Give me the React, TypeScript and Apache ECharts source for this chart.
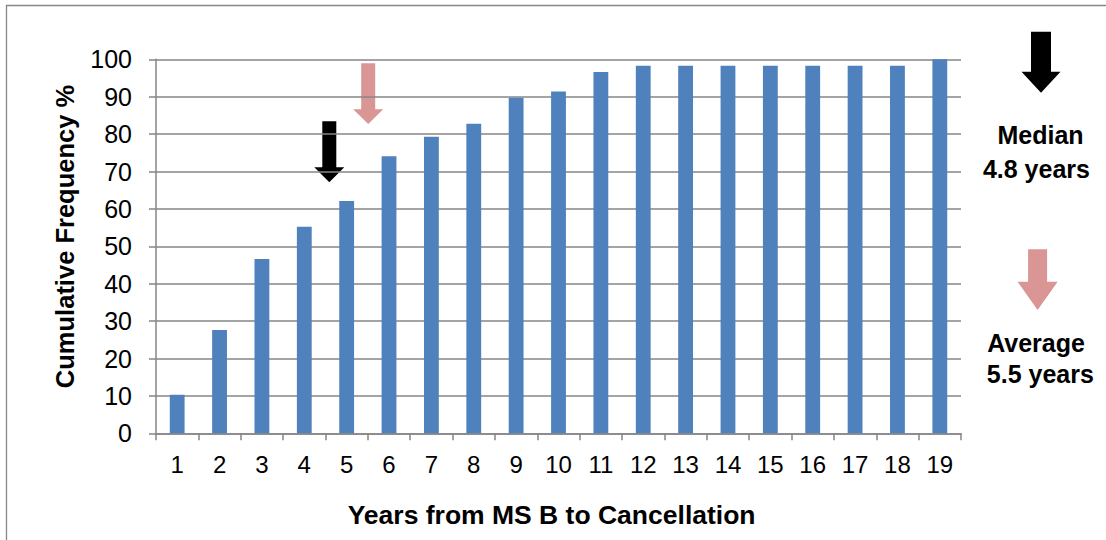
import React, { useEffect, useRef } from "react";
import * as echarts from "echarts";

const years = ["1", "2", "3", "4", "5", "6", "7", "8", "9", "10", "11", "12", "13", "14", "15", "16", "17", "18", "19"];
const cumulativePct = [10.3, 27.6, 46.6, 55.2, 62.1, 74.1, 79.3, 82.8, 89.7, 91.4, 96.6, 98.3, 98.3, 98.3, 98.3, 98.3, 98.3, 98.3, 100];
const yMin = 0;
const yMax = 100;
const yInterval = 10;
const xTitle = "Years from MS B to Cancellation";
const yTitle = "Cumulative Frequency %";
const medianLines = ["Median", "4.8 years"];
const averageLines = [" Average", "5.5 years"];

const FONT = "'Liberation Sans', Arial, sans-serif";
const GRAY = "#868686";
const BAR = "#4F81BD";
const PINK = "#D99694";

function arrow(cx: number, top: number, headTop: number, tip: number, shaftW: number, headW: number, fill: string) {
  const s = shaftW / 2;
  const h = headW / 2;
  return {
    type: "polygon",
    silent: true,
    shape: {
      points: [
        [cx - s, top],
        [cx + s, top],
        [cx + s, headTop],
        [cx + h, headTop],
        [cx, tip],
        [cx - h, headTop],
        [cx - s, headTop],
      ],
    },
    style: { fill },
  };
}

function txt(text: string, x: number, y: number, size: number, extra: any = {}) {
  return {
    type: "text",
    silent: true,
    x,
    y,
    ...extra,
    style: {
      text,
      font: `bold ${size}px ${FONT}`,
      fill: "#000",
      align: "center",
      verticalAlign: "middle",
    },
  };
}

export default function App() {
  const ref = useRef<HTMLDivElement>(null);
  useEffect(() => {
    document.body.style.margin = "0";
    const chart = echarts.init(ref.current!, undefined, { renderer: "svg" });
    chart.setOption({
      animation: false,
      backgroundColor: "#fff",
      grid: { left: 156, right: 145, top: 59.3, bottom: 106.7, containLabel: false },
      xAxis: {
        type: "category",
        data: years,
        axisLine: { show: true, lineStyle: { color: GRAY, width: 1.5 } },
        axisTick: { show: true, length: 7, lineStyle: { color: GRAY, width: 1.5 } },
        axisLabel: { color: "#000", fontSize: 24, fontFamily: FONT, margin: 19, interval: 0 },
        splitLine: { show: false },
      },
      yAxis: {
        type: "value",
        min: yMin,
        max: yMax,
        interval: yInterval,
        axisLine: { show: true, lineStyle: { color: GRAY, width: 1.5 } },
        axisTick: { show: true, length: 7, lineStyle: { color: GRAY, width: 1.5 } },
        axisLabel: { color: "#000", fontSize: 25, fontFamily: FONT, margin: 24 },
        splitLine: { show: true, lineStyle: { color: GRAY, width: 1.5 } },
      },
      series: [
        {
          type: "bar",
          data: cumulativePct,
          barWidth: "35%",
          itemStyle: { color: BAR },
          silent: true,
        },
      ],
      graphic: [
        {
          type: "rect",
          silent: true,
          shape: { x: 6.5, y: 5.5, width: 1120, height: 560 },
          style: { fill: "none", stroke: GRAY, lineWidth: 1.3 },
        },
        txt(yTitle, 65, 236.5, 25.5, { rotation: Math.PI / 2 }),
        txt(xTitle, 551.6, 515, 26.5),
        arrow(329.3, 121.3, 167.3, 182.3, 14, 30, "#000"),
        arrow(368.2, 63.3, 109.3, 124, 14, 30, PINK),
        arrow(1041, 31.7, 71.7, 92.7, 20, 39, "#000"),
        arrow(1037.6, 249.3, 281.7, 310, 19, 40, PINK),
        txt(medianLines[0], 1040.5, 135, 25),
        txt(medianLines[1], 1036.4, 168.7, 25),
        txt(averageLines[0], 1033, 342.5, 25),
        txt(averageLines[1], 1040.3, 374, 25),
      ],
    });
    return () => chart.dispose();
  }, []);
  return <div ref={ref} style={{ width: 1106, height: 540 }} />;
}
